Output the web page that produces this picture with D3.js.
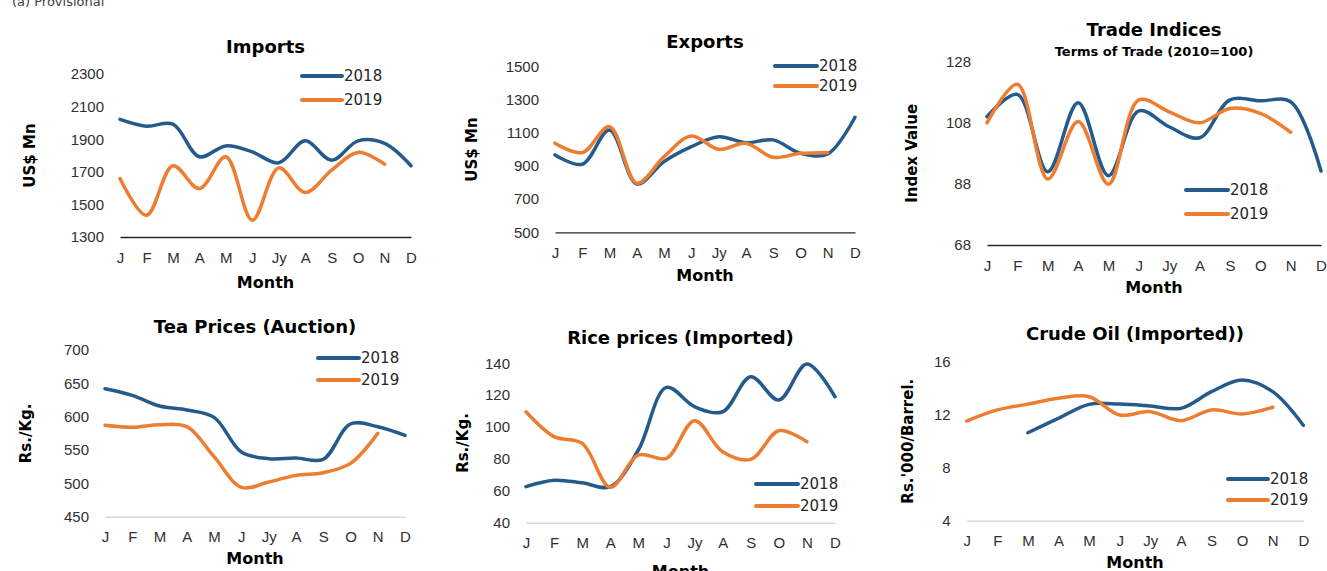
<!DOCTYPE html>
<html>
<head>
<meta charset="utf-8">
<script src="https://cdn.jsdelivr.net/npm/d3@7"></script>
<style>
  body { margin: 0; background: #fff; }
  svg { display: block; font-family: "DejaVu Sans", sans-serif; }
  .tick text { fill: #303030; }
</style>
</head>
<body>
<svg id="chart" width="1327" height="571"></svg>
<script>
// Month labels shared by every panel
const months = ['J', 'F', 'M', 'A', 'M', 'J', 'Jy', 'A', 'S', 'O', 'N', 'D'];
const seriesNames = ['2018', '2019'];

// Values
const imports2018 = [2022, 1980, 1993, 1792, 1859, 1822, 1755, 1890, 1771, 1890, 1874, 1737];
const imports2019 = [1659, 1433, 1737, 1597, 1792, 1403, 1724, 1573, 1710, 1819, 1747, null];
const importsTicks = [1300, 1500, 1700, 1900, 2100, 2300];

const exports2018 = [967, 911, 1118, 792, 927, 1017, 1077, 1041, 1058, 977, 973, 1195];
const exports2019 = [1038, 981, 1138, 796, 957, 1082, 1001, 1038, 953, 977, 981, null];
const exportsTicks = [500, 700, 900, 1100, 1300, 1500];

const tot2018 = [110, 117.3, 92, 114.6, 90.7, 111.9, 106.7, 103.1, 115.5, 115.2, 114.9, 92.2];
const tot2019 = [108, 120.6, 89.6, 108.4, 87.9, 115.5, 111.6, 108, 112.7, 111.1, 104.9, null];
const totTicks = [68, 88, 108, 128];

const tea2018 = [642, 632, 616, 610, 599, 547, 537, 538, 536, 589, 585, 572];
const tea2019 = [587, 584, 588, 585, 540, 494, 502, 512, 516, 530, 575, null];
const teaTicks = [450, 500, 550, 600, 650, 700];

const rice2018 = [62.6, 66.6, 65, 62.6, 85.6, 124.9, 112.8, 109.6, 131.6, 117, 139.6, 119];
const rice2019 = [109.6, 94, 89.8, 62.2, 82.5, 80.4, 104, 84.5, 79.7, 97.7, 90.8, null];
const riceTicks = [40, 60, 80, 100, 120, 140];

const crude2018 = [null, null, 10.64, 11.73, 12.78, 12.8, 12.66, 12.48, 13.74, 14.62, 13.74, 11.2];
const crude2019 = [11.52, 12.36, 12.8, 13.24, 13.36, 11.98, 12.23, 11.55, 12.36, 12.06, 12.56, null];
const crudeTicks = [4, 8, 12, 16];

const colors = ['#245b8c', '#ed7d31'];

// Panel layout (positions only)
const panels = [
  { title: 'Imports', ylabel: 'US$ Mn', s: [imports2018, imports2019], ticks: importsTicks,
    x: [120, 411], y: [237, 74], titleY: 53, ylabX: 30, monthY: 288, axisColor: '#262626',
    leg: { x1: 302, x2: 342, y: 76, dy: 24 } },
  { title: 'Exports', ylabel: 'US$ Mn', s: [exports2018, exports2019], ticks: exportsTicks,
    x: [555, 855], y: [232.3, 66.7], titleY: 48, ylabX: 472, monthY: 281, axisColor: '#262626',
    leg: { x1: 775, x2: 817, y: 66, dy: 20 } },
  { title: 'Trade Indices', sub: 'Terms of Trade (2010=100)', ylabel: 'Index Value', s: [tot2018, tot2019], ticks: totTicks,
    x: [987, 1321], y: [245, 61.7], titleY: 36, ylabX: 912, monthY: 293, axisColor: '#262626',
    leg: { x1: 1186, x2: 1228, y: 190, dy: 24 } },
  { title: 'Tea Prices (Auction)', ylabel: 'Rs./Kg.', s: [tea2018, tea2019], ticks: teaTicks,
    x: [105, 405], y: [516.7, 350], titleY: 333, ylabX: 26, monthY: 564, axisColor: '#d9d9d9',
    leg: { x1: 318, x2: 359, y: 358, dy: 22 } },
  { title: 'Rice prices (Imported)', ylabel: 'Rs./Kg.', s: [rice2018, rice2019], ticks: riceTicks,
    x: [526, 835], y: [522.7, 363.3], titleY: 344, ylabX: 463, monthY: 577, axisColor: '#d9d9d9',
    leg: { x1: 756, x2: 798, y: 484, dy: 22 } },
  { title: 'Crude Oil (Imported))', ylabel: "Rs.'000/Barrel.", s: [crude2018, crude2019], ticks: crudeTicks,
    x: [966.7, 1303.3], y: [520.7, 361.7], titleY: 340, ylabX: 908, monthY: 568, axisColor: '#d9d9d9',
    leg: { x1: 1228, x2: 1268, y: 479, dy: 21 } }
];

const svg = d3.select('#chart');

svg.append('text').attr('x', 12).attr('y', 6).style('font-size', '13px').attr('fill', '#404040')
  .text('(a) Provisional');

panels.forEach(p => {
  const g = svg.append('g');
  const idx = d3.range(months.length);
  const x = d3.scalePoint().domain(idx).range(p.x);
  const y = d3.scaleLinear().domain(d3.extent(p.ticks)).range(p.y);
  const cx = (p.x[0] + p.x[1]) / 2;

  // x axis
  const xa = g.append('g').attr('transform', `translate(0,${p.y[0]})`)
    .call(d3.axisBottom(x).tickSize(0).tickSizeOuter(0).tickPadding(15).tickFormat(i => months[i]));
  xa.select('.domain').attr('stroke', p.axisColor).attr('stroke-width', p.axisColor === '#d9d9d9' ? 1.5 : 1.3);
  xa.selectAll('text').style('font-size', '15px');

  // y axis
  const ya = g.append('g').attr('transform', `translate(${p.x[0]},0)`)
    .call(d3.axisLeft(y).tickValues(p.ticks).tickFormat(d3.format('d')).tickSize(0).tickPadding(16));
  ya.select('.domain').remove();
  ya.selectAll('text').style('font-size', '15px');

  // lines
  const line = d3.line().defined(d => d != null).x((d, i) => x(i)).y(d => y(d)).curve(d3.curveCatmullRom);
  p.s.forEach((vals, k) => {
    g.append('path').attr('d', line(vals)).attr('fill', 'none')
      .attr('stroke', colors[k]).attr('stroke-width', 3.5).attr('stroke-linecap', 'round');
  });

  // titles
  g.append('text').attr('x', cx).attr('y', p.titleY).attr('text-anchor', 'middle')
    .style('font-size', '18px').style('font-weight', 'bold').attr('fill', '#000').text(p.title);
  if (p.sub) {
    g.append('text').attr('x', cx).attr('y', p.titleY + 20).attr('text-anchor', 'middle')
      .style('font-size', '13px').style('font-weight', 'bold').attr('fill', '#000').text(p.sub);
  }
  g.append('text').attr('x', cx).attr('y', p.monthY).attr('text-anchor', 'middle')
    .style('font-size', '16px').style('font-weight', 'bold').attr('fill', '#000').text('Month');
  g.append('text').attr('transform', `translate(${p.ylabX},${(p.y[0] + p.y[1]) / 2}) rotate(-90)`)
    .attr('text-anchor', 'middle').attr('dy', '0.35em')
    .style('font-size', '15px').style('font-weight', 'bold').attr('fill', '#000').text(p.ylabel);

  // legend
  seriesNames.forEach((name, k) => {
    const ly = p.leg.y + k * p.leg.dy;
    g.append('line').attr('x1', p.leg.x1).attr('x2', p.leg.x2).attr('y1', ly).attr('y2', ly)
      .attr('stroke', colors[k]).attr('stroke-width', 4).attr('stroke-linecap', 'round');
    g.append('text').attr('x', p.leg.x2 + 2).attr('y', ly).attr('dy', '0.35em')
      .style('font-size', '15px').attr('fill', '#262626').text(name);
  });
});
</script>
</body>
</html>
